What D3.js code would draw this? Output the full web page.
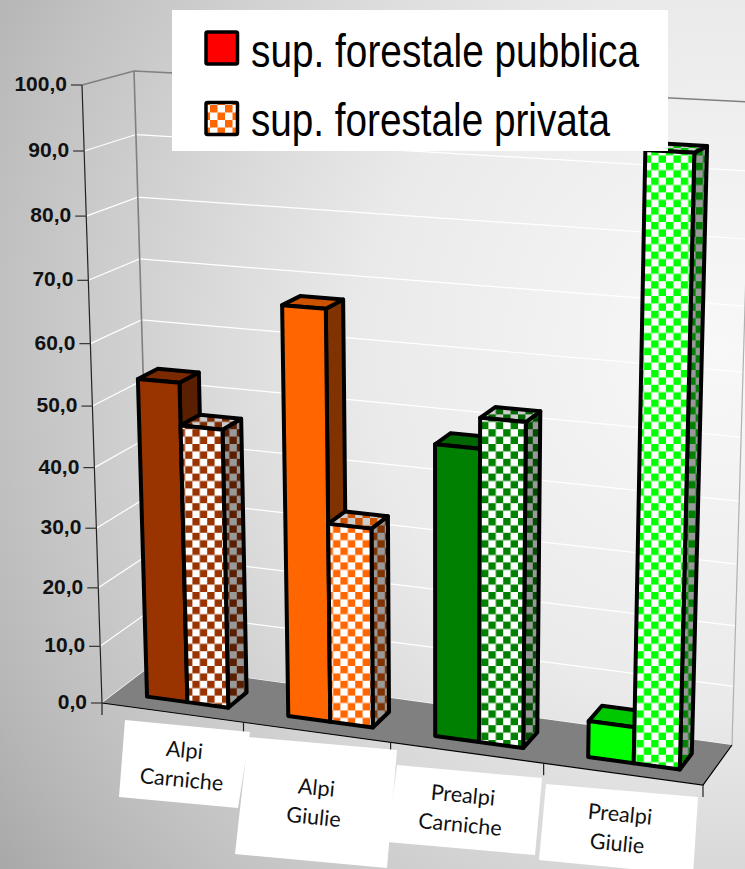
<!DOCTYPE html>
<html>
<head>
<meta charset="utf-8">
<script src="https://cdn.jsdelivr.net/npm/d3@7"></script>
<style>
html,body{margin:0;padding:0;background:#fff}
svg{display:block}
</style>
</head>
<body>
<svg id="chart" width="745" height="869"></svg>
<script>
// Share of forest surface per mountain district
const categories = [["Alpi","Carniche"],["Alpi","Giulie"],["Prealpi","Carniche"],["Prealpi","Giulie"]];
const publicValues = [53.7, 67.4, 47.8, 6.1];
const privateValues = [46.8, 33.3, 52.6, 94.2];
const valueTicks = [0,10,20,30,40,50,60,70,80,90,100];
const legendLabels = ["sup. forestale pubblica","sup. forestale privata"];
const legendWidths = [388,359];
const solidColors = ["#993300","#ff6600","#008000","#00ff00"];
const sideColors = ["#5a1e00","#803300","#004d00","#008000"];
const topColors = ["#7a2900","#cc5200","#006600","#00c800"];

// Perspective frame of the plot box
const frontQuad = {a:[102,703], b:[703,785], c:[720,118], d:[82,85]};
const backQuad  = {a:[152,665], b:[732,745], c:[751,102], d:[134,71]};

function quadMap(q){
  const [x0,y0]=q.a,[x1,y1]=q.b,[x2,y2]=q.c,[x3,y3]=q.d;
  const dx1=x1-x2,dx2=x3-x2,sx=x0-x1+x2-x3,dy1=y1-y2,dy2=y3-y2,sy=y0-y1+y2-y3;
  const den=dx1*dy2-dx2*dy1;
  const g=(sx*dy2-dx2*sy)/den,h=(dx1*sy-sx*dy1)/den;
  const a=x1-x0+g*x1,b=x3-x0+h*x3,c=x0,d=y1-y0+g*y1,e=y3-y0+h*y3,f=y0;
  return (u,v)=>{const w=g*u+h*v+1;return [(a*u+b*v+c)/w,(d*u+e*v+f)/w];};
}
const frontMap=quadMap(frontQuad), backMap=quadMap(backQuad);
const project=(u,v,z)=>{
  const p=frontMap(u,v),q=backMap(u,v);
  return [p[0]+(q[0]-p[0])*z,p[1]+(q[1]-p[1])*z];
};

const y=d3.scalePow().exponent(1.015).domain([0,100]).range([0,1]);
const x=d3.scaleBand().domain(d3.range(categories.length)).range([0,1]).paddingInner(0).paddingOuter(0);
const seriesBand=d3.scaleBand().domain([0,1]).range([0.225,0.805]);
const depth=d3.scaleLinear().domain([0,1]).range([0.28,0.68]);
const line=d3.line();

const svg=d3.select("#chart");
const defs=svg.append("defs");

const bg=defs.append("radialGradient").attr("id","bg").attr("gradientUnits","userSpaceOnUse")
  .attr("cx",720).attr("cy",350).attr("r",888);
[[0,"#f8f8f8"],[0.4,"#eaeaea"],[0.55,"#dcdcdc"],[0.8,"#c2c2c2"],[0.9,"#b6b6b6"],[1,"#a8a8a8"]]
  .forEach(s=>bg.append("stop").attr("offset",s[0]).attr("stop-color",s[1]));
svg.append("rect").attr("width",745).attr("height",869).attr("fill","url(#bg)");

function checker(id,a,b,size){
  const p=defs.append("pattern").attr("id",id).attr("patternUnits","userSpaceOnUse").attr("width",size*2).attr("height",size*2);
  p.append("rect").attr("width",size*2).attr("height",size*2).attr("fill",b);
  p.append("rect").attr("width",size).attr("height",size).attr("fill",a);
  p.append("rect").attr("x",size).attr("y",size).attr("width",size).attr("height",size).attr("fill",a);
}
solidColors.forEach((c,i)=>{
  checker("front"+i,c,"#ffffff",7.4);
  checker("side"+i,sideColors[i],"#999999",7.4);
  checker("top"+i,topColors[i],"#cccccc",7.4);
});
checker("legendCheck","#ff6600","#ffffff",7.5);

// Walls: gridlines on the left and back planes
const grid=svg.append("g");
valueTicks.forEach(t=>{
  const v=y(t);
  const stroke=t===100?"#808080":"#ffffff";
  grid.append("path").attr("d",line([project(0,v,0),project(0,v,1),project(1,v,1)]))
    .attr("fill","none").attr("stroke",stroke).attr("stroke-width",t===100?1.6:1.2);
});
grid.append("path").attr("d",line([project(0,0,1),project(0,1,1)])).attr("stroke","#808080").attr("stroke-width",1.6).attr("fill","none");
grid.append("path").attr("d",line([project(1,0,1),project(1,1,1)])).attr("stroke","#b0b0b0").attr("stroke-width",1.2).attr("fill","none");

// Floor
svg.append("path").attr("d",line([project(0,0,0),project(1,0,0),project(1,0,1),project(0,0,1)])+"Z").attr("fill","#808080");
svg.append("path").attr("d",line([project(0,0,0),project(1,0,0),project(1,0,1)])).attr("fill","none").attr("stroke","#000").attr("stroke-width",1.2);

// Value axis
const axisG=svg.append("g");
axisG.append("path").attr("d",line([project(0,0,0),project(0,1,0)])).attr("stroke","#222").attr("stroke-width",1.2).attr("fill","none");
valueTicks.forEach(t=>{
  const p=project(0,y(t),0);
  axisG.append("line").attr("x1",p[0]-11).attr("x2",p[0]).attr("y1",p[1]).attr("y2",p[1]).attr("stroke","#333").attr("stroke-width",1.2);
  axisG.append("text").attr("x",p[0]-15).attr("y",p[1]+6).attr("text-anchor","end")
    .attr("font-family","'Liberation Sans',Arial,sans-serif").attr("font-weight","bold").attr("font-size",21).attr("fill","#111")
    .text(d3.format(".1f")(t).replace(".",","));
});

// Category ticks along the front edge
d3.range(categories.length+1).forEach(i=>{
  const u=i/categories.length;
  const p=project(u,0,0);
  svg.append("line").attr("x1",p[0]).attr("x2",p[0]).attr("y1",p[1]).attr("y2",p[1]+12).attr("stroke","#222").attr("stroke-width",1.2);
});

// Bars: each group draws side, top, front, public before private
const bars=svg.append("g").attr("stroke","#000").attr("stroke-width",4).attr("stroke-linejoin","round");
function bar(catIndex,seriesIndex,value){
  const bw=x.bandwidth();
  const u0=x(catIndex)+bw*seriesBand(seriesIndex);
  const u1=u0+bw*seriesBand.bandwidth();
  const v=y(value), z0=depth(0), z1=depth(1);
  const fill=k=>seriesIndex===0?(k==="front"?solidColors:k==="side"?sideColors:topColors)[catIndex]:`url(#${k}${catIndex})`;
  bars.append("path").attr("fill",fill("side")).attr("d",line([project(u1,0,z0),project(u1,0,z1),project(u1,v,z1),project(u1,v,z0)])+"Z");
  bars.append("path").attr("fill",fill("top")).attr("d",line([project(u0,v,z0),project(u1,v,z0),project(u1,v,z1),project(u0,v,z1)])+"Z");
  bars.append("path").attr("fill",fill("front")).attr("d",line([project(u0,0,z0),project(u1,0,z0),project(u1,v,z0),project(u0,v,z0)])+"Z");
}
categories.forEach((c,i)=>{
  bar(i,0,publicValues[i]);
  bar(i,1,privateValues[i]);
});

// Category labels on white cards
const cardShapes=[
  [[125,720],[250,732],[238,808],[119,797]],
  [[248,737],[397,750],[387,868],[235,854]],
  [[397,765],[542,778],[535,855],[387,842]],
  [[546,784],[698,797],[693,875],[539,860]]
];
const labelCentres=[[183,765],[315,802.5],[461.5,810],[618.5,829]];
categories.forEach((c,i)=>{
  svg.append("path").attr("d",line(cardShapes[i])+"Z").attr("fill","#fff");
  const t=svg.append("text").attr("transform",`translate(${labelCentres[i]}) rotate(5.5)`)
    .attr("text-anchor","middle").attr("font-family","Lato,sans-serif").attr("font-size",21.5).attr("fill","#111");
  t.append("tspan").attr("x",0).attr("y",-7.5).text(c[0]);
  t.append("tspan").attr("x",0).attr("y",22).text(c[1]);
});

// Legend
const legend=svg.append("g");
legend.append("rect").attr("x",172).attr("y",10).attr("width",496).attr("height",141).attr("fill","#fff");
legendLabels.forEach((l,i)=>{
  const top=32+i*70.5;
  legend.append("rect").attr("x",206).attr("y",top).attr("width",31.5).attr("height",32).attr("rx",1.5)
    .attr("fill",i===0?"#ff0000":"url(#legendCheck)").attr("stroke","#000").attr("stroke-width",3.5);
  legend.append("text").attr("x",251).attr("y",67+i*68.5).attr("font-family","'Liberation Sans',Arial,sans-serif").attr("font-size",46)
    .attr("textLength",legendWidths[i]).attr("lengthAdjust","spacingAndGlyphs").attr("fill","#000").text(l);
});
</script>
</body>
</html>
